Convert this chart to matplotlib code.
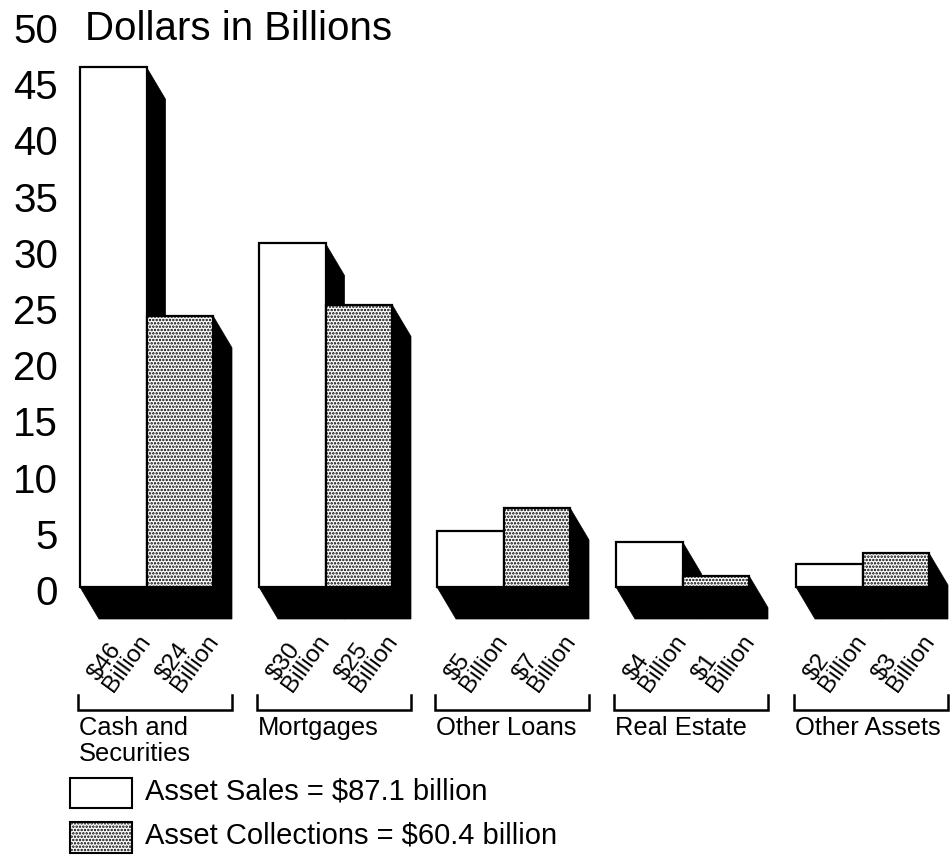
import matplotlib
matplotlib.use('Agg')
import matplotlib.pyplot as plt
from matplotlib.patches import Polygon, Rectangle

plt.rcParams['font.family'] = ['Liberation Sans', 'DejaVu Sans']
plt.rcParams['hatch.linewidth'] = 1.2

categories = ['Cash and\nSecurities', 'Mortgages', 'Other Loans', 'Real Estate', 'Other Assets']
asset_sales = [46, 30.4, 5, 4, 2]
asset_collections = [24, 25, 7, 1, 3]
sales_labels = ['$46\nBillion', '$30\nBillion', '$5\nBillion', '$4\nBillion', '$2\nBillion']
collection_labels = ['$24\nBillion', '$25\nBillion', '$7\nBillion', '$1\nBillion', '$3\nBillion']
y_ticks = [0, 5, 10, 15, 20, 25, 30, 35, 40, 45, 50]

# layout in image pixels
group_left = [80, 259, 437, 616, 796]
bar_w = 66.5
depth_x = 19
depth_px = 32
y0_px = 587
px_per_unit = 11.3
tick_px_per_unit = 11.24  # tick labels sit on a slightly tighter pitch than the bars
dots = dict(facecolor='white', edgecolor='black', hatch='.....')


def py(pixel):
    # image pixel row -> value on the y axis
    return (y0_px - pixel) / px_per_unit


fig = plt.figure(figsize=(9.5, 8.57), dpi=100)
ax = fig.add_axes([0, 0, 1, 1])
ax.set_xlim(0, 950)
ax.set_ylim(py(857), py(0))
ax.axis('off')

depth = depth_px / px_per_unit


def draw_bar(left, height, **style):
    right = left + bar_w
    # black side and floor first, front face goes on top
    ax.add_patch(Polygon([(left, 0), (left + depth_x, -depth), (right + depth_x, -depth),
                          (right + depth_x, height - depth), (right, height), (right, 0)],
                         closed=True, facecolor='black', edgecolor='black', lw=0.5, zorder=2))
    return Rectangle((left, 0), bar_w, height, lw=1.6, zorder=3, **style)


for i, left in enumerate(group_left):
    mid = left + bar_w
    front_a = draw_bar(left, asset_sales[i], facecolor='white', edgecolor='black')
    front_b = draw_bar(mid, asset_collections[i], **dots)
    ax.add_patch(front_a)
    ax.add_patch(front_b)

    # value labels under each bar
    for x, lab in [(left + 40, sales_labels[i]), (mid + 41, collection_labels[i])]:
        ax.text(x, py(658), lab, rotation=54, ha='center', va='center', fontsize=17.5,
                linespacing=0.8, rotation_mode='anchor', multialignment='left')

    # bracket and category name
    bl = left - 2
    br = left + 152
    ax.plot([bl, bl, br, br], [py(695), py(710), py(710), py(695)], color='black', lw=1.8,
            solid_joinstyle='miter', zorder=2)
    ax.text(bl + 1, py(716), categories[i], ha='left', va='top', fontsize=18.4, linespacing=1.1)

for v in y_ticks:
    ax.text(58, py(594 - v * tick_px_per_unit), str(v), ha='right', va='center', fontsize=29)
ax.text(85, py(29), 'Dollars in Billions', ha='left', va='center', fontsize=29)

# legend
ax.add_patch(Rectangle((70, py(808)), 62, 30 / px_per_unit, facecolor='white', edgecolor='black', lw=1.5))
ax.add_patch(Rectangle((70, py(853)), 62, 31 / px_per_unit, lw=1.5, **dots))
ax.text(145, py(792), 'Asset Sales = $87.1 billion', ha='left', va='center', fontsize=21)
ax.text(145, py(835), 'Asset Collections = $60.4 billion', ha='left', va='center', fontsize=21)

fig.savefig('out.png', dpi=100)
